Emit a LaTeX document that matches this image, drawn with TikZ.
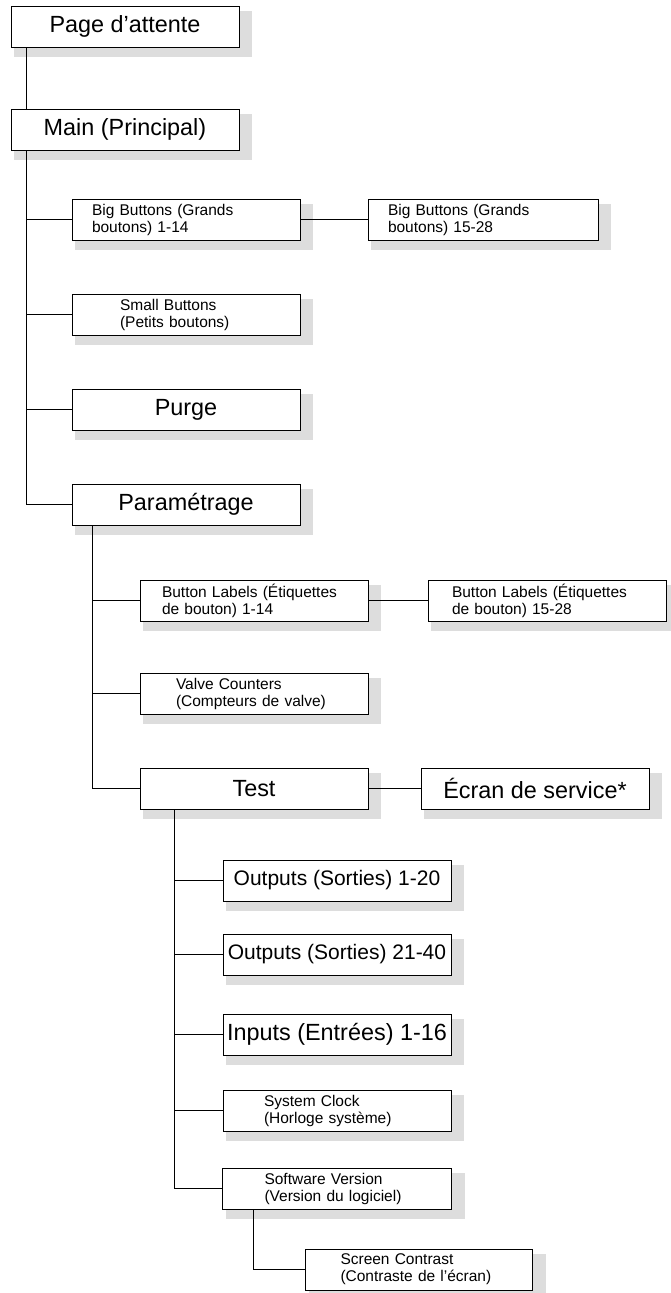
\documentclass[tikz,border=0pt]{standalone}
\usepackage{fontspec}
\setmainfont{Liberation Sans}
\usepackage{tikz}
\usetikzlibrary{positioning, calc, backgrounds}
\definecolor{shadowGray}{RGB}{221,221,221}
\newcommand{\bigtext}{\fontsize{23.4}{28}\selectfont}
\newcommand{\smalltext}{\fontsize{15.5}{17}\selectfont}

\begin{document}
\begin{tikzpicture}[
    x=1pt, y=1pt,
    block/.style={rectangle, draw=black, line width=1pt, fill=white, minimum width=228pt, minimum height=41pt, inner sep=0pt, outer sep=0pt, font=\bigtext},
    twoline/.style 2 args={block, font=\smalltext, align=left, minimum width=0pt, text width=#1, inner xsep=#2},
    link/.style={line width=0.8pt}
]
\useasboundingbox (0,0) rectangle (671,-1293);

% Top level
\node[block] (page) at (125,-26.5) {Page d’attente};
\node[block, below=62pt of page] (main) {Main (Principal)};

% Main menu
\node[twoline={188pt}{20pt}, below right=49pt and -167pt of main] (big1) {Big Buttons (Grands\\boutons) 1-14};
\node[twoline={190pt}{20pt}, right=68pt of big1] (big2) {Big Buttons (Grands\\boutons) 15-28};
\node[twoline={132pt}{48pt}, below=54pt of big1] (small) {Small Buttons\\(Petits boutons)};
\node[block, below=54pt of small] (purge) {Purge};
\node[block, below=54pt of purge] (param) {Paramétrage};

% Setup menu
\node[twoline={184pt}{22pt}, below right=55pt and -160pt of param] (bl1) {Button Labels (Étiquettes\\de bouton) 1-14};
\node[twoline={190pt}{24pt}, right=60pt of bl1] (bl2) {Button Labels (Étiquettes\\de bouton) 15-28};
\node[twoline={156pt}{36pt}, below=52pt of bl1] (valve) {Valve Counters\\(Compteurs de valve)};
\node[block, below=54pt of valve] (test) {Test};
\node[block, right=53pt of test] (ecran) {Écran de service*};

% Test menu
\node[block, below right=51pt and -145pt of test] (out1) {\fontsize{21}{25}\selectfont Outputs (Sorties) 1-20};
\node[block, below=33pt of out1] (out2) {\fontsize{21}{25}\selectfont Outputs (Sorties) 21-40};
\node[block, below=39pt of out2] (inputs) {Inputs (Entrées) 1-16};
\node[twoline={146pt}{41pt}, below=35pt of inputs] (clock) {System Clock\\(Horloge système)};
\node[twoline={145pt}{42pt}, below=37pt of clock] (soft) {Software Version\\(Version du logiciel)};
\node[twoline={157pt}{35pt}, below right=40pt and -146pt of soft] (screen) {Screen Contrast\\(Contraste de l’écran)};

% Shadows
\begin{scope}[on background layer]
\foreach \n in {page, main, big1, big2, small, purge, param, bl1, bl2, valve, test, ecran, out1, out2, inputs, clock, soft, screen}
    \fill[shadowGray] ($(\n.north west)+(3,-5)$) rectangle ($(\n.south east)+(13,-10)$);
\end{scope}

% Tree lines
\draw[link] ($(page.south west)+(15,0)$) -- ($(main.north west)+(15,0)$);
\coordinate (mainbus) at ($(main.south west)+(15,0)$);
\foreach \child in {big1, small, purge, param}
    \draw[link] (mainbus) |- (\child.west);
\coordinate (parambus) at ($(param.south west)+(20,0)$);
\foreach \child in {bl1, valve, test}
    \draw[link] (parambus) |- (\child.west);
\coordinate (testbus) at ($(test.south west)+(34,0)$);
\foreach \child in {out1, out2, inputs, clock, soft}
    \draw[link] (testbus) |- (\child.west);
\coordinate (softbus) at ($(soft.south west)+(31,0)$);
\draw[link] (softbus) |- (screen.west);

% Side links
\draw[link] (big1) -- (big2);
\draw[link] (bl1) -- (bl2);
\draw[link] (test) -- (ecran);

\end{tikzpicture}
\end{document}
